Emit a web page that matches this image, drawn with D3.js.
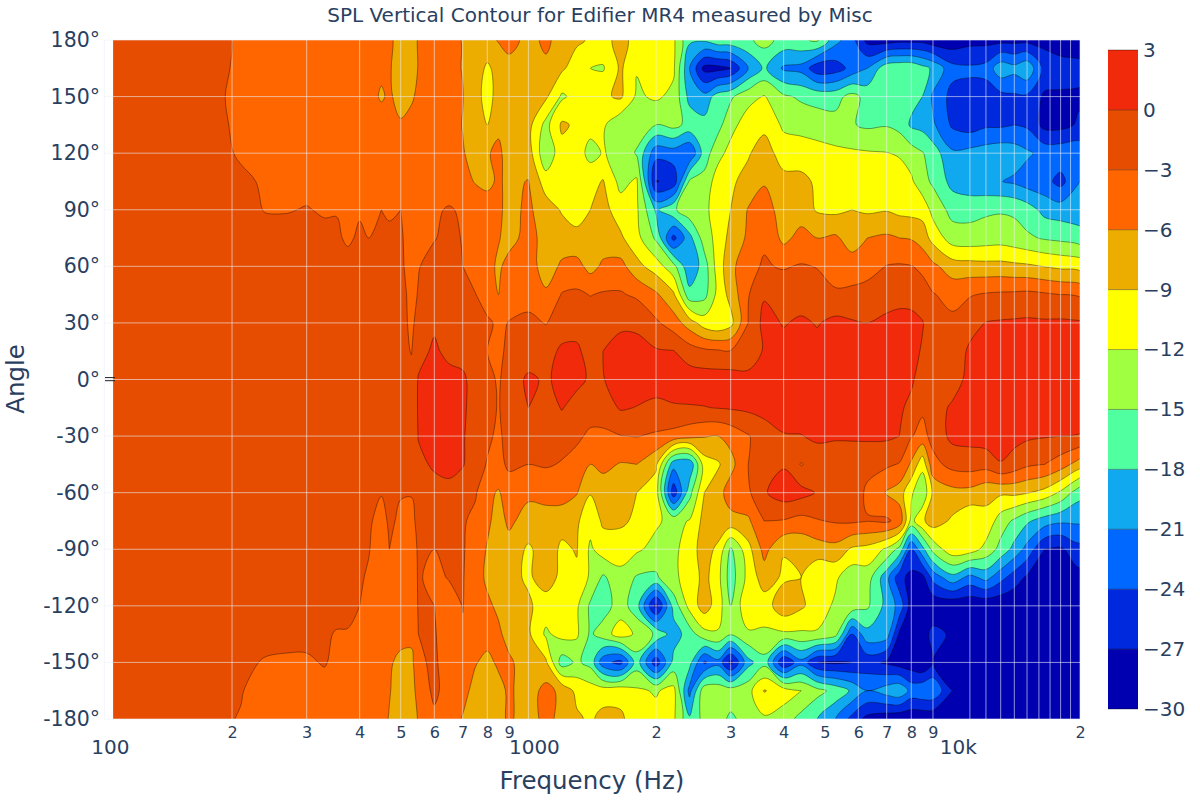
<!DOCTYPE html>
<html><head><meta charset="utf-8">
<style>html,body{margin:0;padding:0;background:#fff}svg{display:block}text{font-family:"DejaVu Sans",Verdana,sans-serif;fill:#2a3f5f}</style>
<script src="https://cdn.jsdelivr.net/npm/d3@7"></script></head>
<body><svg id="c" width="1200" height="800"></svg>
<script>
const titleText="SPL Vertical Contour for Edifier MR4 measured by Misc";
const xTitle="Frequency (Hz)", yTitle="Angle";
const frequencies=[105,190,210,240,270,300,330,353,375,400,420,450,470,500,530,550,600,650,700,750,800,850,900,1000,1100,1200,1300,1400,1500,1650,1800,2000,2200,2400,2600,2800,3000,3300,3600,4000,4400,4800,5300,5800,6300,7000,7500,8000,8500,9000,10000,11000,12000,13000,14000,15000,16500,18000,20000];
const angles=[180,165,150,135,120,105,90,75,60,45,30,15,0,-15,-30,-45,-60,-75,-90,-105,-120,-135,-150,-165,-180];
const levels=[-27,-24,-21,-18,-15,-12,-9,-6,-3,0];
const colorbarLevels=[-30,-27,-24,-21,-18,-15,-12,-9,-6,-3,0,3];
const bandColors=["#0000b0","#0028dc","#0068ff","#10a8ee","#50ffa0","#a0ff40","#ffff00","#ecac00","#ff6600","#e64d00","#f02a0a"];
const majorTicks=[100,1000,10000];
const minorTicks=[200,300,400,500,600,700,800,900,2000,3000,4000,5000,6000,7000,8000,9000,20000];
const gridFreqs=[100,200,300,400,500,600,700,800,900,1000,2000,3000,4000,5000,6000,7000,8000,9000,11000,12000,13000,14000,15000,16000,17000,18000,19000,20000];
const yTicks=[180,150,120,90,60,30,0,-30,-60,-90,-120,-150,-180];

const splP180=[-2,-2.7,-3.3,-3.6,-3.8,-4,-4.2,-4.3,-4.4,-4.5,-4.7,-5,-5.5,-7,-7,-5.8,-5,-5.3,-6.1,-6.8,
-7,-5.8,-5,-6.8,-5.5,-7,-8.5,-9.3,-10,-8,-10,-11,-11.5,-17.5,-17.5,-16,-16,-15.5,-14,
-16,-15.5,-14.5,-20,-23,-28,-28.5,-28,-28,-28,-29,-29,-28,-28,-28,-28,-28,-28,-29,-29];
const splP165=[-2,-2.8,-3.3,-3.6,-3.8,-4,-4.2,-4.3,-4.5,-4.7,-5,-5.5,-5.8,-7,-7,-5.9,-5,-5.3,-6.1,-7.5,
-9.5,-8,-7,-7.5,-6.5,-8.5,-10.5,-12,-12.3,-8.5,-11.8,-11,-11.5,-21,-28,-28,-27,-21,-17.5,
-21.5,-22,-26,-25.5,-23,-21,-16,-15.5,-15.5,-17,-18.5,-23,-23.5,-23,-19,-20,-18.5,-25,-25.5,-26];
const splP150=[-2,-2.95,-3.3,-3.6,-3.8,-4,-4.2,-4.3,-4.5,-4.7,-5,-6.3,-5.6,-7,-6.2,-5.7,-5,-5.3,-5.9,-8,
-10,-8,-7.5,-7,-8.5,-12.5,-11,-10.5,-9.5,-8.5,-12.5,-11.5,-12.8,-19,-20,-16.5,-15.5,-13,-11.8,
-14.5,-15.5,-16,-16,-14,-16,-16.5,-16.5,-17,-18,-21.5,-25,-25,-25.5,-25,-24.5,-24.5,-27.5,-27.5,-27.5];
const splP135=[-2,-2.9,-3.2,-3.5,-3.7,-3.9,-4,-4.1,-4.2,-4.3,-4.4,-4.7,-5,-5.7,-5.5,-5.3,-4.8,-5,-6.1,-8,
-9,-6.5,-7.5,-8,-13,-8.5,-9.5,-11,-11.5,-14.5,-13.5,-15,-14,-16,-17,-16,-13,-10.5,-9.8,
-12.5,-13,-13.5,-14,-14.8,-15.5,-15.2,-16,-18.5,-19,-20.5,-24.5,-25.5,-24.5,-24.5,-24,-24.5,-28,-28,-26.5];
const splP120=[-2,-2.7,-3.2,-3.4,-3.6,-3.8,-3.9,-4,-4.1,-4.2,-4.3,-4.5,-4.7,-4.9,-5,-4.9,-4.7,-4.8,-5.8,-7,
-6.2,-5.5,-7,-7.5,-14.5,-10,-10.5,-13,-11.8,-13,-15.3,-23,-22.5,-24,-16.5,-13,-11,-9.3,-7.5,
-10.5,-10.5,-10.8,-11.3,-11.5,-11.7,-11.9,-12.3,-13.5,-14.8,-16.5,-20.5,-20,-19.5,-19,-19.5,-20.5,-22,-22,-22];
const splP105=[-2,-2.2,-2.7,-3.2,-3.4,-3.6,-3.7,-3.8,-3.8,-3.9,-4,-4,-4,-4,-4.2,-4.1,-4,-4.2,-5,-6.2,
-6.5,-5.7,-6.5,-5.9,-10.5,-10.8,-10.5,-10,-8.8,-13,-11.5,-27.2,-26,-14.5,-14,-10.5,-9.5,-8,-6.2,
-8,-8.2,-9.5,-10,-10,-10,-10.2,-10.5,-11.5,-14,-15.5,-19,-20,-20.5,-20.9,-21.5,-22.5,-23,-25,-21];
const splP90=[-2,-2,-2.3,-3.1,-3.1,-2.9,-3.2,-3.1,-3.3,-3.2,-3.3,-3,-3.2,-3,-3.5,-3.5,-3.3,-2.8,-3.3,-4,
-5,-5.5,-6.8,-5.5,-7.5,-9.3,-10.5,-9,-8,-10.5,-11.5,-18.5,-15.5,-13,-13,-10,-9,-5.8,-5,
-7,-7.5,-9.3,-9.7,-9,-9.5,-9.2,-9.8,-10,-10,-13,-16,-16,-15.5,-15.3,-15.5,-16.5,-19,-19.5,-20];
const splP75=[-2,-2,-2.1,-2.2,-2.3,-2.4,-2.5,-2.7,-3.3,-2.7,-3,-2.6,-2.7,-2.8,-3.7,-3.5,-3.1,-2.5,-3.1,-4,
-4.5,-5.8,-7,-5,-7,-7.5,-8,-8.8,-7.5,-8.5,-11,-15.5,-25,-19,-13.5,-11,-8,-5.5,-3.3,
-6.8,-5,-6,-5.5,-7.5,-6,-5.5,-6,-6.2,-7.5,-10,-13.5,-13.8,-13.5,-13.3,-13.8,-14.5,-15.3,-15.7,-16.5];
const splP60=[-2,-2,-2,-2,-2,-2.1,-2.1,-2.2,-2.3,-2.3,-2.4,-2.4,-2.5,-2.7,-3.7,-3.1,-2.3,-2.2,-3,-4.5,
-5,-6.5,-5,-4.5,-7.5,-5.5,-5,-7,-5.5,-5,-8,-10.5,-14,-20.5,-16.5,-10.5,-7,-3.5,-2.8,
-3.2,-2.8,-3.1,-4.5,-4.5,-4,-2.9,-2.7,-2.9,-3.5,-5.3,-7.5,-7.8,-8,-8,-8.3,-8.5,-9.1,-9.6,-10];
const splP45=[-2,-2,-2,-2,-2,-2,-2,-2,-2.1,-2.1,-2.2,-2.2,-2.3,-2.4,-3.5,-2.9,-2,-1.8,-2.3,-2.9,
-4.5,-6,-4.2,-3.8,-5.5,-2.8,-2.5,-3.1,-2.7,-2.7,-3.5,-5.5,-8.5,-17,-16,-11,-8,-3.2,-0.3,
-1.5,-1.5,-2,-2.5,-2.3,-2,-1.5,-1,-1.2,-2,-2.8,-4,-3.2,-2.7,-2.5,-2.4,-2.2,-2.6,-3,-3.3];
const splP30=[-2,-2,-2,-2,-2,-2,-2,-2,-2,-2,-2.1,-2.1,-2.3,-2.5,-3.3,-2.5,-0.5,-1.5,-1.5,-1.7,
-2.5,-3.5,-2.9,-2.5,-3.1,-2,-1.5,-1.2,-1,-0.5,-0.3,-2.5,-4.5,-7.5,-10.5,-11.5,-10,-3,1,
-0.2,0.5,-0.2,0.8,0.3,0,0.8,1,1,0.2,-2,-2.3,-1,0.1,0.3,0.4,0.5,0.4,0.5,0.3];
const splP15=[-2,-2,-2,-2,-2,-2,-2,-2,-2,-2,-2,-2,-2.1,-2.3,-3.1,-1,0.5,-0.8,-1,-1.3,
-3,-3.5,-2.5,-2.2,-1.5,0.7,0.7,-1.5,0,1,0.5,0.3,0.1,-1.5,-2.3,-2.6,-2.8,-3,0.5,
1,1,1,1.5,1.5,1.5,1.5,1.5,1,-0.3,-2,-1.8,0.5,1,1,1,1,1,1,1];
const splZ0=[-2,-2,-2,-2,-2,-2,-2,-2,-2,-2,-2,-2,-2,-2.2,-2.3,0.2,1,1,0.5,-1.2,
-2.5,-3.2,-2.2,0.7,-0.5,1,1,-0.5,-0.1,1,1.5,1.5,1.5,1.5,1.5,1.5,1.5,1.5,1.5,
1.5,1.5,1.5,2,2,2,1.5,1,0.5,-1.5,-2.5,-1.5,1,2,2,2,2,2,2,2];
const splM15=[-2,-2,-2,-2,-2,-2,-2,-2,-2,-2,-2,-2,-2,-2,-2.2,0.3,1,1,0.5,-1.2,
-2.5,-3.1,-2.3,0,-1.5,0.2,-1.5,-1.8,-1.5,0.3,-0.1,-0.8,-0.3,-0.2,-0.1,0.1,0.3,0.6,1,
1.5,1.5,1.5,2,2,2,1.5,0.5,-0.8,-2.5,-1.5,0.5,1.5,2,2,2,2,2,2,2];
const splM30=[-2,-2,-2,-2,-2,-2,-2,-2,-2,-2,-2,-2,-2,-2,-2.2,0.1,0.5,0.8,0.3,-1.5,
-2.5,-3.5,-2,-1.5,-1.8,-2,-2.5,-3.5,-3.6,-3.1,-2.9,-3.4,-4,-5,-5.8,-6,-5,-3.2,-1.5,
-0.2,-0.1,0.5,0.3,0.5,0.6,0.5,0,-2.8,-4,-2,0.8,1,1.5,1.5,1,0.5,0.2,0,-0.2];
const splM45=[-2,-2,-2,-2,-2,-2,-2,-2,-2,-2,-2,-2,-2,-2.1,-2.2,-0.5,0.3,0.5,0.2,-1.5,
-3.2,-3.8,-2.5,-3,-2.7,-3.2,-4,-6,-5.3,-6.2,-6,-8.5,-20,-20.5,-10.5,-9.4,-7,-3,-1.8,
-0.3,-3.2,-1.5,-1.5,-2.3,-2.5,-2.5,-3.2,-6.5,-11,-4,-2,-1.6,-1.8,-0.2,-1.3,-2.5,-3,-4.5,-7.5];
const splM60=[-2,-2,-2,-2,-2,-2,-2,-2,-2.1,-2.2,-2.4,-2.9,-2.5,-2.9,-2.9,-2.3,-0.8,-0.5,-1.7,-2.7,
-5.2,-6.3,-4.5,-5.5,-5.2,-4.5,-5.8,-8.8,-7.5,-7.5,-9,-10.5,-26,-16,-9,-7.2,-4.5,-3.5,-0.3,
1.5,1,-0.2,-1.5,-2,-3.3,-6.3,-7.5,-11.5,-14.5,-8.5,-7,-7,-8.3,-8.5,-8.3,-8.8,-10,-12.5,-17];
const splM75=[-2,-2,-2,-2,-2,-2,-2,-2.1,-2.2,-2.3,-2.7,-3.7,-2.7,-3.3,-3.5,-2.5,-2.3,-2.2,-2.7,-3.7,
-5.5,-7,-5.5,-7,-7,-8,-8.5,-11,-8.5,-8.5,-9.5,-11.5,-13,-11.8,-8,-7.5,-7,-6.5,-3,
-3.2,-4,-3.2,-2.7,-2.5,-2.9,-2.5,-4,-13,-9.5,-7.5,-9.5,-11.5,-9.8,-13.5,-15.5,-17.5,-19.5,-20.5,-20.5];
const splM90=[-2,-2,-2,-2,-2,-2,-2,-2.2,-2.3,-2.5,-2.9,-3.9,-3,-4,-4.2,-2.7,-3,-2.4,-2.7,-4.5,
-6.2,-7.5,-7,-9.5,-7.5,-9.5,-8.8,-12.5,-10.5,-10.5,-11.5,-13,-13,-10,-8,-9.5,-15.5,-10,-5,
-8.8,-8.5,-7.5,-7,-9.5,-10,-12.5,-16,-24,-19,-14,-10,-10.5,-13,-16,-19,-22,-27,-27.5,-25];
const splM105=[-2,-2,-2,-2,-2,-2,-2.1,-2.3,-2.5,-2.8,-3.2,-4,-4.5,-5,-5,-2.7,-3.8,-2.8,-2.8,-4.8,
-6.5,-8,-8,-9.5,-7.5,-9.8,-9.5,-12.5,-15.5,-13,-15.3,-15.5,-12.5,-11,-8,-11,-16.5,-11,-7.5,
-9.5,-9,-11.5,-11.5,-14,-13.5,-20,-26,-28,-28,-23,-19,-22,-20,-23,-25.5,-27.5,-28.5,-29,-28];
const splM120=[-2,-2,-2,-2,-2,-2.1,-2.3,-2.5,-2.6,-3,-3.6,-4,-4.5,-5,-5.2,-2.8,-3,-4.5,-2.9,-4.7,
-5.5,-6.5,-7.5,-8.5,-10.5,-10.5,-11.5,-15.5,-16.5,-13.5,-16.8,-28,-16.8,-11,-7.5,-10.5,-15,-9.5,-10.5,
-7,-8.5,-10.5,-12.5,-13,-14.5,-19,-22,-28.5,-29,-29.5,-29.5,-29.5,-29.5,-29.5,-29.5,-29.5,-29.5,-29.5,-29.5];
const splM135=[-2,-2,-2.1,-2.2,-2.4,-2.6,-2.8,-3.1,-3.1,-3.5,-3.8,-4.1,-4.4,-4.7,-5,-3,-2.8,-4.3,-3.3,-4.5,
-4.8,-5.5,-7,-8.5,-12.5,-11,-11.5,-15.5,-13.5,-10.5,-12.5,-15.5,-19.5,-16.5,-13,-12.3,-14.7,-12.5,-12.5,
-12.5,-12.5,-12.3,-14,-24,-19,-19.5,-27.5,-29,-28.5,-26,-27.5,-27.5,-28,-28,-29,-29,-29,-29,-29];
const splM150=[-2,-2.2,-2.5,-3.2,-3.3,-3.2,-2.9,-3.3,-3.5,-3.8,-4,-4.5,-5.5,-7,-7,-3.3,-2.7,-4,-4.5,-5.8,
-6.8,-5.5,-5.5,-7.5,-8.5,-16.5,-14.5,-16,-23,-25,-16.5,-26,-17,-17,-24.5,-22,-28,-19,-16,
-27,-22,-27,-27.5,-27,-26,-27.5,-28.5,-29,-30,-27,-29,-27.5,-29,-28,-29.5,-29.5,-29.5,-29.5,-29.5];
const splM165=[-2,-2.6,-2.9,-3.8,-4,-3.8,-3.5,-4,-4.2,-4.3,-4.5,-5,-5.8,-7.5,-7.6,-4.5,-2.5,-4,-5,-7,
-7.5,-7,-5.5,-7.5,-5,-6.8,-9.8,-10.5,-10.5,-10,-11.5,-12.3,-11,-22,-13,-13,-13.5,-13,-8.8,
-10.5,-12,-14,-16,-18.5,-21,-19.5,-18.5,-22,-21.5,-21.5,-27,-29,-29,-28.5,-28.5,-29.5,-29.5,-29.5,-29.5];
const splM180=[-2,-2.8,-3.1,-4,-4.2,-4.2,-4.2,-4.3,-4.4,-4.5,-4.7,-5,-6.2,-7.5,-7.5,-5.8,-3.5,-4.5,-6.2,-7.5,
-7.5,-7,-5.5,-7.5,-5,-7,-8.5,-9.5,-8,-8.5,-10.5,-11,-11.5,-17.5,-14,-14,-15.5,-14,-12.5,
-13.5,-16,-18,-21,-25,-28,-29,-29.5,-29.5,-29.5,-29.5,-29.5,-29.5,-29.5,-29.5,-29.5,-29.5,-29.5,-29.5,-29.5];
const splRows=[splP180,splP165,splP150,splP135,splP120,splP105,splP90,splP75,splP60,splP45,splP30,splP15,splZ0,splM15,splM30,splM45,splM60,splM75,splM90,splM105,splM120,splM135,splM150,splM165,splM180];

const svg=d3.select("#c");
const X=d3.scaleLog().domain([100,20000]).range([104.4,1080]);
const Y=d3.scaleLinear().domain([180,-180]).range([40,719]);
const CB=d3.scaleLinear().domain([3,-30]).range([50,709]);
const n=frequencies.length,m=angles.length;
const logF=frequencies.map(f=>Math.log10(f));
const values=splRows.flat();
function px(g){const u=g-0.5;if(u<=0)return X(frequencies[0])+u*60;if(u>=n-1)return X(frequencies[n-1])+(u-n+1)*60;
  const i=Math.floor(u);return X(Math.pow(10,logF[i]+(logF[i+1]-logF[i])*(u-i)));}
function py(g){const u=g-0.5;if(u<=0)return Y(angles[0])+u*60;if(u>=m-1)return Y(angles[m-1])+(u-m+1)*60;
  const i=Math.floor(u);return Y(angles[i]+(angles[i+1]-angles[i])*(u-i));}
const plotL=X(frequencies[0]);
svg.append("clipPath").attr("id","plot").append("rect").attr("x",plotL).attr("y",40).attr("width",1080-plotL).attr("height",679);
const gc=svg.append("g").attr("clip-path","url(#plot)");
gc.append("rect").attr("x",plotL).attr("y",40).attr("width",1080-plotL).attr("height",679).attr("fill",bandColors[0]);
const ring=d3.line().x(p=>px(p[0])).y(p=>py(p[1])).curve(d3.curveCatmullRomClosed.alpha(0.5));
const contourGen=d3.contours().size([n,m]).smooth(true);
levels.forEach((t,i)=>{
  const c=contourGen.contour(values,t);
  const d=c.coordinates.map(poly=>poly.map(r=>ring(r.slice(0,-1))).join("")).join("");
  gc.append("path").attr("d",d).attr("fill",bandColors[i+1]).attr("fill-rule","evenodd")
    .attr("stroke","#000").attr("stroke-opacity",0.55).attr("stroke-width",0.7);
});
// grid
const gridStroke="rgba(235,240,248,0.6)";
const gg=svg.append("g");
gridFreqs.forEach(f=>{
  gg.append("line").attr("x1",X(f)).attr("x2",X(f)).attr("y1",40).attr("y2",719).attr("stroke",gridStroke).attr("stroke-width",1);
});
yTicks.forEach(a=>{
  gg.append("line").attr("x1",104.4).attr("x2",1080).attr("y1",Y(a)).attr("y2",Y(a)).attr("stroke",gridStroke).attr("stroke-width",1);
});
// zero mark
[377.6,380.7].forEach(y=>svg.append("line").attr("x1",105).attr("x2",115).attr("y1",y).attr("y2",y).attr("stroke","#222").attr("stroke-width",1));
// axes
const yAxis=svg.append("g").attr("transform","translate(100,0)").call(d3.axisLeft(Y).tickValues(yTicks).tickFormat(d=>d+"\u00b0").tickSize(0).tickPadding(0));
yAxis.select(".domain").remove();
yAxis.selectAll("text").attr("font-size",20.5).attr("fill","#2a3f5f").style("font-family",'"DejaVu Sans"');
const xMinor=svg.append("g").attr("transform","translate(0,726.5)").call(d3.axisBottom(X).tickValues(minorTicks).tickFormat(d=>String(d).charAt(0)).tickSize(0).tickPadding(0));
xMinor.select(".domain").remove();
xMinor.selectAll("text").attr("font-size",16).attr("fill","#2a3f5f").style("font-family",'"DejaVu Sans"');
const xMajor=svg.append("g").attr("transform","translate(5.5,739.5)").call(d3.axisBottom(X).tickValues(majorTicks).tickFormat(d=>d>=10000?"10k":String(d)).tickSize(0).tickPadding(0));
xMajor.select(".domain").remove();
xMajor.selectAll("text").attr("font-size",20).attr("fill","#2a3f5f").style("font-family",'"DejaVu Sans"');
// titles
svg.append("text").attr("x",600).attr("y",21.5).attr("text-anchor","middle").attr("font-size",20).text(titleText);
svg.append("text").attr("x",592).attr("y",789).attr("text-anchor","middle").attr("font-size",24.5).text(xTitle);
svg.append("text").attr("transform","translate(24,379) rotate(-90)").attr("text-anchor","middle").attr("font-size",24.5).text(yTitle);
// colorbar
const cb=svg.append("g");
d3.pairs(colorbarLevels).forEach(([a,b],i)=>{
  cb.append("rect").attr("x",1108).attr("width",30).attr("y",CB(b)).attr("height",CB(a)-CB(b)).attr("fill",bandColors[i]);
});
colorbarLevels.forEach(l=>cb.append("line").attr("x1",1108).attr("x2",1138).attr("y1",CB(l)).attr("y2",CB(l)).attr("stroke","#000").attr("stroke-opacity",0.5).attr("stroke-width",0.7));
const cbAxis=svg.append("g").attr("transform","translate(1143,0)").call(d3.axisRight(CB).tickValues(colorbarLevels).tickFormat(d=>d<0?"\u2212"+(-d):String(d)).tickSize(0).tickPadding(0));
cbAxis.select(".domain").remove();
cbAxis.selectAll("text").attr("font-size",20).attr("fill","#2a3f5f").style("font-family",'"DejaVu Sans"');
</script></body></html>
